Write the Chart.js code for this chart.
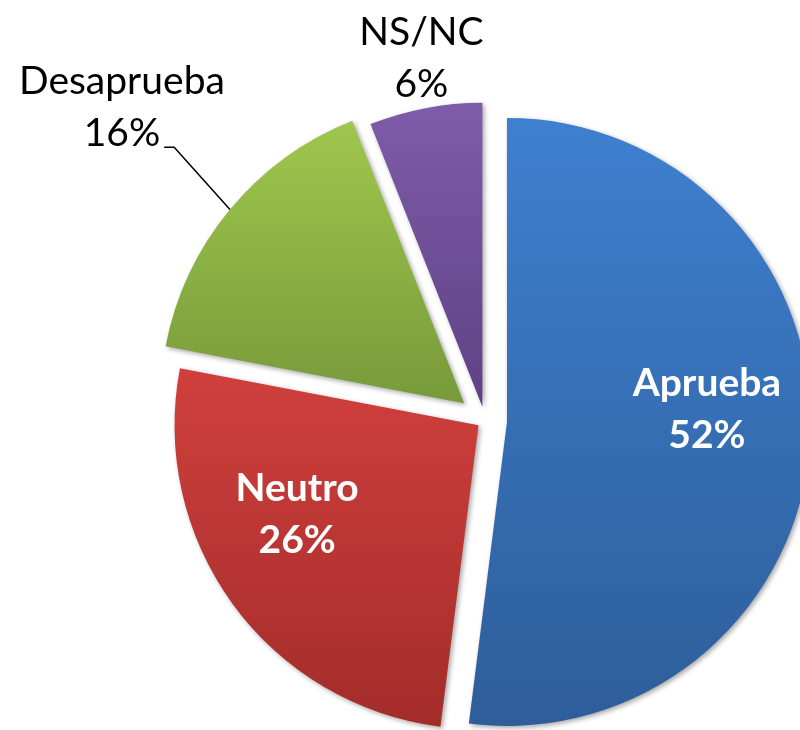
<!DOCTYPE html>
<html>
<head>
<meta charset="utf-8">
<title>Aprobación</title>
<script src="https://cdn.jsdelivr.net/npm/chart.js@4.4.0/dist/chart.umd.min.js"></script>
<style>
  html, body { margin: 0; padding: 0; background: #fff; }
  #wrap { width: 800px; height: 730px; overflow: hidden; }
</style>
</head>
<body>
<div id="wrap"><canvas id="pieChart" width="800" height="730"></canvas></div>
<script>
// Datos
const categories = ['Aprueba', 'Neutro', 'Desaprueba', 'NS/NC'];
const values = [52, 26, 16, 6];
const valueLabels = ['52%', '26%', '16%', '6%'];

// Estilos
const topColors = ['#3e80cf', '#d0403d', '#9fc74e', '#7f5ca9'];
const bottomColors = ['#2e5d9a', '#a32c2a', '#789a3a', '#5e4184'];
const explode = [22, 8, 27, 14];   // separacion de cada porcion (px)
const pieRadius = 304;
const fontFamily = 'Lato, "Open Sans", sans-serif';
const fontSize = 39;
const lineGap = 52;

// donde va cada etiqueta: distancia (en radios) y giro (grados) desde el angulo medio
const labelSpots = [
    { dist: 0.73, turn: -3.2, inside: true },
    { dist: 0.71, turn: 6.5, inside: true },
    { dist: 1.55, turn: 0, inside: false, leader: true },
    { dist: 1.17, turn: 0.5, inside: false }
];

// alto de cada porcion, para el degradado vertical
function sliceExtent(chart, i) {
    const area = chart.chartArea;
    const cx = (area.left + area.right) / 2;
    const cy = (area.top + area.bottom) / 2;
    const total = values.reduce((a, b) => a + b, 0);
    const before = values.slice(0, i).reduce((a, b) => a + b, 0);
    const start = -Math.PI / 2 + 2 * Math.PI * before / total;
    const end = start + 2 * Math.PI * values[i] / total;
    const mid = (start + end) / 2;
    const oy = cy + Math.sin(mid) * explode[i];
    let top = oy, bottom = oy;
    for (let k = 0; k <= 60; k++) {
        const y = oy + Math.sin(start + (end - start) * k / 60) * pieRadius;
        top = Math.min(top, y);
        bottom = Math.max(bottom, y);
    }
    return { top, bottom };
}

function sliceFill(context) {
    const i = context.dataIndex;
    const chart = context.chart;
    if (i === undefined || !chart.chartArea) return topColors[0];
    const b = sliceExtent(chart, i);
    const g = chart.ctx.createLinearGradient(0, b.top, 0, b.bottom);
    g.addColorStop(0, topColors[i]);
    g.addColorStop(1, bottomColors[i]);
    return g;
}

const explodePlugin = {
    id: 'explodeLabels',
    afterDatasetsUpdate(chart) {
        const meta = chart.getDatasetMeta(0);
        meta.data.forEach((arc, i) => {
            const mid = (arc.startAngle + arc.endAngle) / 2;
            arc.x += Math.cos(mid) * explode[i];
            arc.y += Math.sin(mid) * explode[i];
        });
    },
    beforeDatasetsDraw(chart) {
        const ctx = chart.ctx;
        ctx.save();
        ctx.shadowColor = 'rgba(0, 0, 0, 0.35)';
        ctx.shadowBlur = 5;
        ctx.shadowOffsetX = 2;
        ctx.shadowOffsetY = 2;
    },
    afterDatasetsDraw(chart) {
        const ctx = chart.ctx;
        ctx.restore();

        const area = chart.chartArea;
        const cx = (area.left + area.right) / 2;
        const cy = (area.top + area.bottom) / 2;
        const meta = chart.getDatasetMeta(0);

        ctx.save();
        ctx.textAlign = 'center';
        ctx.textBaseline = 'alphabetic';
        meta.data.forEach((arc, i) => {
            const spot = labelSpots[i];
            const mid = (arc.startAngle + arc.endAngle) / 2;
            const a = mid + spot.turn * Math.PI / 180;
            const x = cx + Math.cos(a) * spot.dist * pieRadius;
            const y = cy + Math.sin(a) * spot.dist * pieRadius;

            ctx.font = (spot.inside ? 'bold ' : '') + fontSize + 'px ' + fontFamily;
            ctx.fillStyle = spot.inside ? '#ffffff' : '#000000';
            ctx.fillText(categories[i], x, y - lineGap / 2);
            ctx.fillText(valueLabels[i], x, y + lineGap / 2);

            if (spot.leader) {
                const w = ctx.measureText(valueLabels[i]).width;
                const sx = x + w / 2 + 4;
                const sy = y + lineGap / 2 + 1;
                const ex = arc.x + Math.cos(mid) * pieRadius;
                const ey = arc.y + Math.sin(mid) * pieRadius;
                ctx.beginPath();
                ctx.moveTo(sx, sy);
                ctx.lineTo(sx + 10, sy);
                ctx.lineTo(ex, ey);
                ctx.strokeStyle = '#000000';
                ctx.lineWidth = 1.5;
                ctx.stroke();
            }
        });
        ctx.restore();
    }
};

const ctx = document.getElementById('pieChart').getContext('2d');
const pieChart = new Chart(ctx, {
    type: 'pie',
    data: {
        labels: categories,
        datasets: [{
            data: values,
            backgroundColor: sliceFill,
            borderWidth: 0,
            hoverOffset: 0,
            clip: false
        }]
    },
    options: {
        responsive: false,
        animation: false,
        events: [],
        radius: pieRadius,
        layout: {
            padding: { left: 170, top: 111, right: 0, bottom: 0 }
        },
        plugins: {
            legend: { display: false },
            tooltip: { enabled: false }
        }
    },
    plugins: [explodePlugin]
});
</script>
</body>
</html>
